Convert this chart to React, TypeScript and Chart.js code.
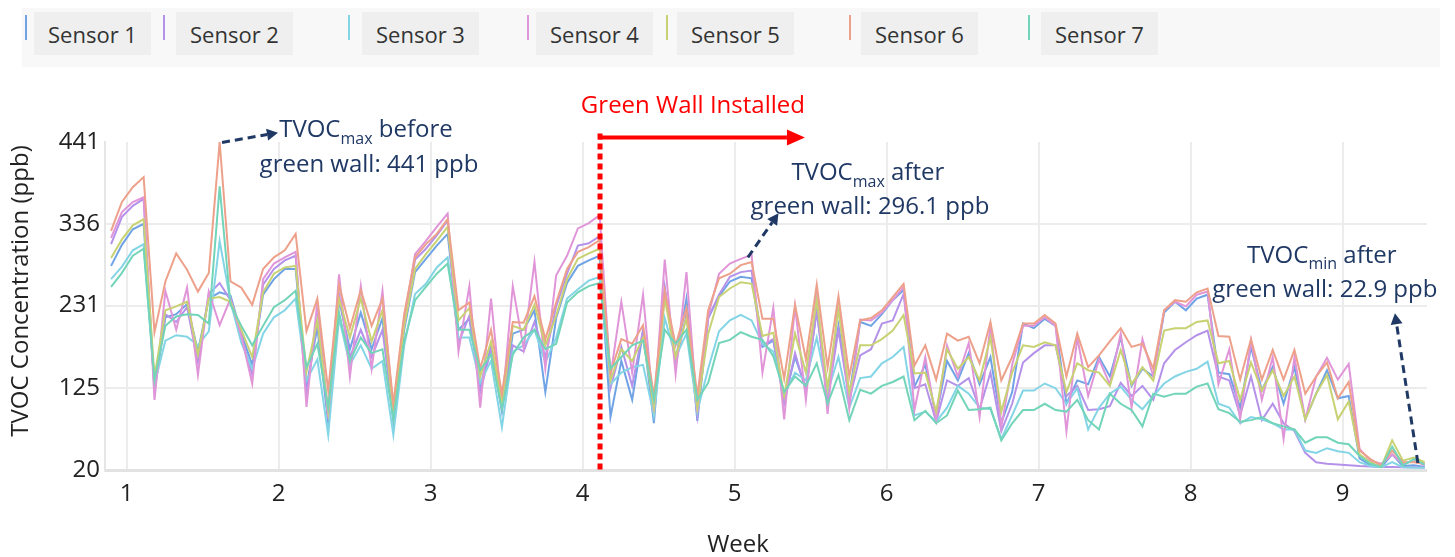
import React, { useEffect, useRef } from "react";
import { Chart, registerables } from "chart.js";

Chart.register(...registerables);

const FONT = "'Open Sans', 'Noto Sans', sans-serif";

// ---------------- data ----------------
const SENSOR_NAMES = ["Sensor 1", "Sensor 2", "Sensor 3", "Sensor 4", "Sensor 5", "Sensor 6", "Sensor 7"];
const SENSOR_COLORS = ["#6fa3e6", "#b592ea", "#83d5e6", "#e195d9", "#c8d273", "#eda08a", "#72d4b8"];

// readings every half day (12 h), first reading at week 0.897
const START_WEEK = 0.897;
const STEP_WEEKS = 1 / 14;

const weekTicks = [1, 2, 3, 4, 5, 6, 7, 8, 9];
const yTicks = [20, 125, 231, 336, 441];
const WALL_WEEK = 4.114;

const sensor1 = [282,309,329,336,125,216,220,233,172,240,
 248,244,195,155,245,265,278,278,127,203,
 80,238,175,222,175,215,82,200,274,291,
 308,323,200,214,128,178,95,195,200,225,
 120,215,260,282,289,295,88,160,110,198,
 80,252,160,240,83,215,243,262,268,266,
 178,186,110,165,125,225,115,205,115,210,
 205,220,238,251,127,155,88,160,135,170,
 130,165,80,120,208,202,214,205,105,135,
 130,165,140,190,128,150,140,222,236,225,
 240,245,145,143,100,178,122,152,105,152,
 85,118,148,112,115,35,26,23.5,40,25,
 26,24];

const sensor2 = [310,345,359,368,120,220,210,229,158,246,
 260,238,192,142,258,278,289,295,115,215,
 85,245,165,200,165,200,90,210,290,304,
 321,340,183,218,120,175,100,180,172,210,
 165,230,272,308,311,320,125,178,128,200,
 100,255,155,220,90,215,245,268,274,276,
 180,188,105,170,122,225,110,200,110,167,
 175,208,212,246,125,130,82,135,128,138,
 98,145,70,105,158,170,180,180,115,128,
 97,98,102,132,115,128,110,157,174,184,
 193,199,140,135,90,140,84,105,80,70,
 42,30,28,27,26,25,24.5,24,24,23.5,
 23.5,23.2];

const sensor3 = [265,281,302,310,130,186,193,191,180,198,
 314,236,183,150,195,216,225,240,135,162,
 65,215,155,180,150,160,65,180,246,259,
 280,293,190,190,132,160,75,172,180,200,
 158,190,240,252,263,268,130,145,152,155,
 90,215,165,195,95,150,198,212,219,212,
 182,172,118,145,135,190,120,165,100,138,
 140,157,165,178,90,95,82,100,128,118,
 100,98,60,90,122,122,131,125,105,125,
 72,100,118,127,110,98,115,131,140,146,
 150,159,105,100,80,88,85,80,72,72,
 45,42,48,44,42,30,25,23.5,30,23.5,
 23,22.9];

const sensor4 = [318,351,364,370,110,250,200,254,142,249,
 206,240,192,131,265,285,293,300,101,236,
 90,271,140,256,150,250,95,215,297,314,
 332,349,172,256,100,240,100,256,176,287,
 150,270,295,330,337,347,140,236,145,245,
 95,290,143,274,95,218,272,285,291,296.1,
 145,228,85,230,110,250,92,238,100,213,
 212,222,238,255,97,165,85,180,140,183,
 88,205,75,155,205,205,216,205,70,190,
 115,162,130,195,100,188,140,225,236,230,
 245,249,130,175,85,186,110,165,60,165,
 85,140,164,136,156,47,32,28,40,28,
 32,26];

const sensor5 = [292,316,334,342,140,225,230,236,168,240,
 242,236,200,165,248,272,280,282,146,212,
 95,240,190,240,185,225,95,205,278,297,
 314,332,212,228,140,185,105,205,200,232,
 180,218,265,291,298,304,135,175,160,190,
 100,240,165,215,100,195,242,253,261,259,
 192,196,115,195,145,238,125,226,120,180,
 180,188,199,219,144,145,95,175,150,165,
 135,190,95,145,180,178,184,180,120,157,
 148,145,128,174,130,152,135,199,202,202,
 210,212,157,160,110,158,122,148,115,140,
 85,118,142,85,108,40,30,24,58,32,
 36,30];

const sensor6 = [327,364,383,396,197,262,298,277,249,273,
 441,262,254,232,278,293,302,323,198,240,
 122,258,202,251,205,240,105,220,293,310,
 323,342,225,235,150,200,118,210,209,243,
 188,235,278,300,306,315,145,188,182,206,
 115,250,180,228,115,225,266,272,283,287,
 214,214,137,232,162,258,152,243,140,212,
 215,225,242,259,154,180,136,195,186,191,
 157,210,135,165,208,208,219,208,140,195,
 152,167,185,202,178,182,150,225,238,236,
 248,253,192,191,136,188,136,174,136,174,
 118,140,158,112,133,45,34,26,45,30,
 30,28];

const sensor7 = [255,273,295,304,135,205,217,220,219,208,
 384,232,205,180,205,229,238,250,152,182,
 100,222,160,190,170,175,85,185,238,255,
 272,285,200,200,148,168,98,168,190,200,
 175,182,235,248,256,260,150,165,180,186,
 110,200,182,200,110,132,183,187,197,191,
 187,166,120,140,128,157,105,142,84,123,
 118,128,133,140,84,96,80,90,122,97,
 98,100,58,80,97,97,105,97,95,110,
 84,72,118,105,97,76,118,114,118,118,
 127,131,98,93,82,84,88,80,76,72,
 55,62,62,55,53,38,28,24,50,26,
 34,27];

const SERIES = [sensor1, sensor2, sensor3, sensor4, sensor5, sensor6, sensor7];

// ---------------- drawing helpers ----------------
const NAVY = "#1f3864";
const RED = "#ff0000";
const TEXT_SIZE = 24;

function drawArrow(ctx: CanvasRenderingContext2D, x1: number, y1: number, x2: number, y2: number,
  color: string, width: number, dash: number[], headLen: number, headHalf: number) {
  const ang = Math.atan2(y2 - y1, x2 - x1);
  const bx = x2 - Math.cos(ang) * headLen;
  const by = y2 - Math.sin(ang) * headLen;
  ctx.save();
  ctx.strokeStyle = color;
  ctx.fillStyle = color;
  ctx.lineWidth = width;
  ctx.setLineDash(dash);
  ctx.beginPath();
  ctx.moveTo(x1, y1);
  ctx.lineTo(bx, by);
  ctx.stroke();
  ctx.setLineDash([]);
  ctx.beginPath();
  ctx.moveTo(x2, y2);
  ctx.lineTo(bx + Math.sin(ang) * headHalf, by - Math.cos(ang) * headHalf);
  ctx.lineTo(bx - Math.sin(ang) * headHalf, by + Math.cos(ang) * headHalf);
  ctx.closePath();
  ctx.fill();
  ctx.restore();
}

type Part = { t: string; sub?: boolean };
function drawRich(ctx: CanvasRenderingContext2D, parts: Part[], cx: number, cy: number, color: string, size: number) {
  const main = `${size}px ${FONT}`;
  const sub = `${Math.round(size * 0.68)}px ${FONT}`;
  let total = 0;
  parts.forEach((p) => { ctx.font = p.sub ? sub : main; total += ctx.measureText(p.t).width; });
  let x = cx - total / 2;
  ctx.fillStyle = color;
  ctx.textAlign = "left";
  ctx.textBaseline = "alphabetic";
  const base = cy + size * 0.36;
  parts.forEach((p) => {
    ctx.font = p.sub ? sub : main;
    ctx.fillText(p.t, x, p.sub ? base + size * 0.27 : base);
    x += ctx.measureText(p.t).width;
  });
}

const annotationPlugin = {
  id: "tvocAnnotations",
  afterDatasetsDraw(chart: any) {
    const { ctx, scales, chartArea } = chart;
    const px = (w: number) => scales.x.getPixelForValue(w);
    const py = (v: number) => scales.y.getPixelForValue(v);
    ctx.save();

    // green wall installed marker
    const rx = px(WALL_WEEK);
    ctx.strokeStyle = RED;
    ctx.lineWidth = 5;
    ctx.setLineDash([6, 4]);
    ctx.beginPath();
    ctx.moveTo(rx, py(452));
    ctx.lineTo(rx, chartArea.bottom);
    ctx.stroke();
    ctx.setLineDash([]);
    drawArrow(ctx, rx - 2, py(446.8), px(5.462), py(446.8), RED, 4, [], 18, 8);
    ctx.font = `${TEXT_SIZE}px ${FONT}`;
    ctx.fillStyle = RED;
    ctx.textAlign = "center";
    ctx.textBaseline = "middle";
    ctx.fillText("Green Wall Installed", px(4.725), py(486.5));

    // max before
    drawArrow(ctx, px(1.627), py(440.4), px(1.995), py(453), NAVY, 3, [8, 5], 11, 6);
    drawRich(ctx, [{ t: "TVOC" }, { t: "max", sub: true }, { t: " before" }], px(2.574), py(458.3), NAVY, TEXT_SIZE);
    drawRich(ctx, [{ t: "green wall: 441 ppb" }], px(2.594), py(413.5), NAVY, TEXT_SIZE);

    // max after
    drawArrow(ctx, px(5.087), py(293), px(5.288), py(349.4), NAVY, 3, [8, 5], 11, 6);
    drawRich(ctx, [{ t: "TVOC" }, { t: "max", sub: true }, { t: " after" }], px(5.876), py(403), NAVY, TEXT_SIZE);
    drawRich(ctx, [{ t: "green wall: 296.1 ppb" }], px(5.89), py(359.6), NAVY, TEXT_SIZE);

    // min after
    drawArrow(ctx, px(9.495), py(29), px(9.344), py(221.2), NAVY, 3, [8, 5], 11, 6);
    drawRich(ctx, [{ t: "TVOC" }, { t: "min", sub: true }, { t: " after" }], px(8.863), py(296.8), NAVY, TEXT_SIZE);
    drawRich(ctx, [{ t: "green wall: 22.9 ppb" }], px(8.883), py(253.2), NAVY, TEXT_SIZE);

    // axis titles
    ctx.fillStyle = "#222";
    ctx.font = `${TEXT_SIZE}px ${FONT}`;
    ctx.textAlign = "center";
    ctx.textBaseline = "middle";
    ctx.fillText("Week", 738, 545);
    ctx.save();
    ctx.translate(21, 291);
    ctx.rotate(-Math.PI / 2);
    ctx.fillText("TVOC Concentration (ppb)", 0, 0);
    ctx.restore();

    ctx.restore();
  },
};

// legend layout (pixels)
const legendLineX = [25, 163, 348, 527, 666, 849, 1028];
const legendBoxX = [34, 176, 362, 536, 677, 861, 1041];

export default function App() {
  const ref = useRef<HTMLCanvasElement>(null);

  useEffect(() => {
    if (!ref.current) return;
    const datasets = SERIES.map((vals, s) => ({
      label: SENSOR_NAMES[s],
      data: vals.map((v, i) => ({ x: START_WEEK + i * STEP_WEEKS, y: v })),
      borderColor: SENSOR_COLORS[s],
      backgroundColor: SENSOR_COLORS[s],
      borderWidth: 2,
      pointRadius: 0,
      tension: 0,
      fill: false,
      order: 7 - s,
    }));
    const chart = new Chart(ref.current, {
      type: "line",
      data: { datasets },
      options: {
        responsive: false,
        animation: false,
        layout: { padding: { top: 142, right: 28, left: 0, bottom: 0 } },
        plugins: { legend: { display: false }, tooltip: { enabled: false } },
        scales: {
          x: {
            type: "linear",
            min: 0.857,
            max: 9.555,
            afterBuildTicks: (s: any) => { s.ticks = weekTicks.map((v) => ({ value: v })); },
            afterFit: (s: any) => { s.height = 87; },
            ticks: { font: { family: FONT, size: TEXT_SIZE }, color: "#222", padding: 10, maxRotation: 0, callback: (v: any) => String(v) },
            grid: { color: "#ececec", lineWidth: 2, drawTicks: false },
            border: { display: false },
          },
          y: {
            type: "linear",
            min: 20,
            max: 441,
            afterBuildTicks: (s: any) => { s.ticks = yTicks.map((v) => ({ value: v })); },
            afterFit: (s: any) => { s.width = 105; },
            ticks: { font: { family: FONT, size: TEXT_SIZE }, color: "#222", padding: 5, callback: (v: any) => String(v) },
            grid: {
              color: (c: any) => (c.tick && c.tick.value === 441 ? "rgba(0,0,0,0)" : c.tick && c.tick.value === 20 ? "#e2e2e2" : "#ececec"),
              lineWidth: (c: any) => (c.tick && c.tick.value === 20 ? 3 : 2),
              drawTicks: false,
            },
            border: { display: true, color: "#e6e6e6", width: 2 },
          },
        },
      },
      plugins: [annotationPlugin],
    } as any);
    return () => chart.destroy();
  }, []);

  return (
    <div style={{ position: "absolute", left: 0, top: 0, width: 1455, height: 557, background: "#fff", overflow: "hidden", fontFamily: FONT }}>
      <canvas ref={ref} width={1455} height={557} style={{ position: "absolute", left: 0, top: 0, width: 1455, height: 557 }} />
      <div style={{ position: "absolute", left: 22, top: 8, width: 1418, height: 59, background: "#f8f8f8" }} />
      {SENSOR_NAMES.map((name, i) => (
        <React.Fragment key={name}>
          <div style={{ position: "absolute", left: legendLineX[i], top: 15, width: 2, height: 25, background: SENSOR_COLORS[i] }} />
          <div style={{ position: "absolute", left: legendBoxX[i], top: 12, width: 117, height: 43, background: "#efefef", display: "flex", alignItems: "center", justifyContent: "center", fontSize: 22, color: "#333" }}>
            {name}
          </div>
        </React.Fragment>
      ))}
    </div>
  );
}
